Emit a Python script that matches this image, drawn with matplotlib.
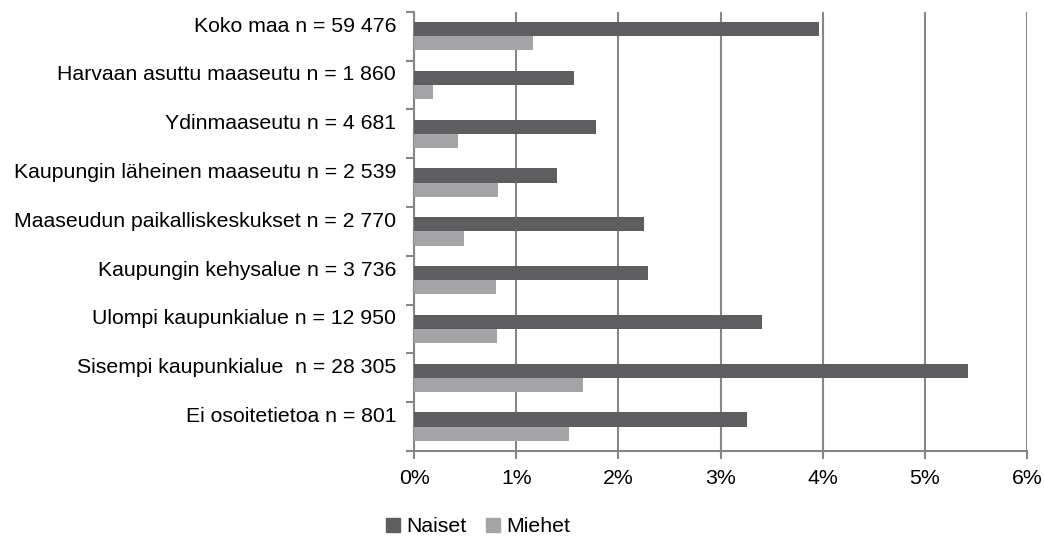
import matplotlib.pyplot as plt
import matplotlib.transforms as mtransforms
from matplotlib.patches import Patch
import numpy as np

plt.rcParams['font.family'] = ['Liberation Sans', 'DejaVu Sans']

categories = ['Koko maa n = 59 476',
              'Harvaan asuttu maaseutu n = 1 860',
              'Ydinmaaseutu n = 4 681',
              'Kaupungin läheinen maaseutu n = 2 539',
              'Maaseudun paikalliskeskukset n = 2 770',
              'Kaupungin kehysalue n = 3 736',
              'Ulompi kaupunkialue n = 12 950',
              'Sisempi kaupunkialue  n = 28 305',
              'Ei osoitetietoa n = 801']
naiset = [3.96, 1.57, 1.78, 1.40, 2.25, 2.29, 3.41, 5.42, 3.26]
miehet = [1.16, 0.19, 0.43, 0.82, 0.49, 0.80, 0.81, 1.65, 1.52]
xticks = [0, 1, 2, 3, 4, 5, 6]

c_n = '#5e5e60'
c_m = '#a4a4a6'
grid_c = '#868686'
fs = 15.3

fig = plt.figure(figsize=(10.44, 5.42), dpi=100)
ax = fig.add_axes([0.3966, 0.1679, 0.5871, 0.8105])

y = np.arange(len(categories))
h = 0.29
ax.barh(y - h / 2, naiset, height=h, color=c_n, zorder=3)
ax.barh(y + h / 2, miehet, height=h, color=c_m, zorder=3)

ax.set_xlim(0, 6)
ax.set_ylim(len(categories) - 0.5, -0.5)
ax.set_xticks(xticks)
ax.set_xticklabels([f'{t}%' for t in xticks], fontsize=fs)
ax.set_yticks(np.arange(len(categories) + 1) - 0.5)
ax.set_yticklabels([])
ax.xaxis.grid(True, color=grid_c, linewidth=1.5, zorder=0)

# category labels, sitting a little above the band centre
off = mtransforms.ScaledTranslation(-18 / 100, 10 / 100, fig.dpi_scale_trans)
for yi, lab in zip(y, categories):
    ax.text(0, yi, lab, ha='right', va='center', fontsize=fs,
            transform=ax.get_yaxis_transform() + off)

for s in ['top', 'right']:
    ax.spines[s].set_visible(False)
for s in ['left', 'bottom']:
    ax.spines[s].set_color(grid_c)
    ax.spines[s].set_linewidth(1.5)
ax.tick_params(axis='y', length=6, width=1.5, color=grid_c)
ax.tick_params(axis='x', length=6, width=1.5, color=grid_c, pad=7)

handles = [Patch(color=c_n, label='Naiset'), Patch(color=c_m, label='Miehet')]
fig.legend(handles=handles, loc='center', bbox_to_anchor=(0.458, 0.028),
           ncol=2, frameon=False, fontsize=fs, handlelength=0.65,
           handleheight=0.65, handletextpad=0.3, columnspacing=0.9)

fig.savefig('out.png', dpi=100)
